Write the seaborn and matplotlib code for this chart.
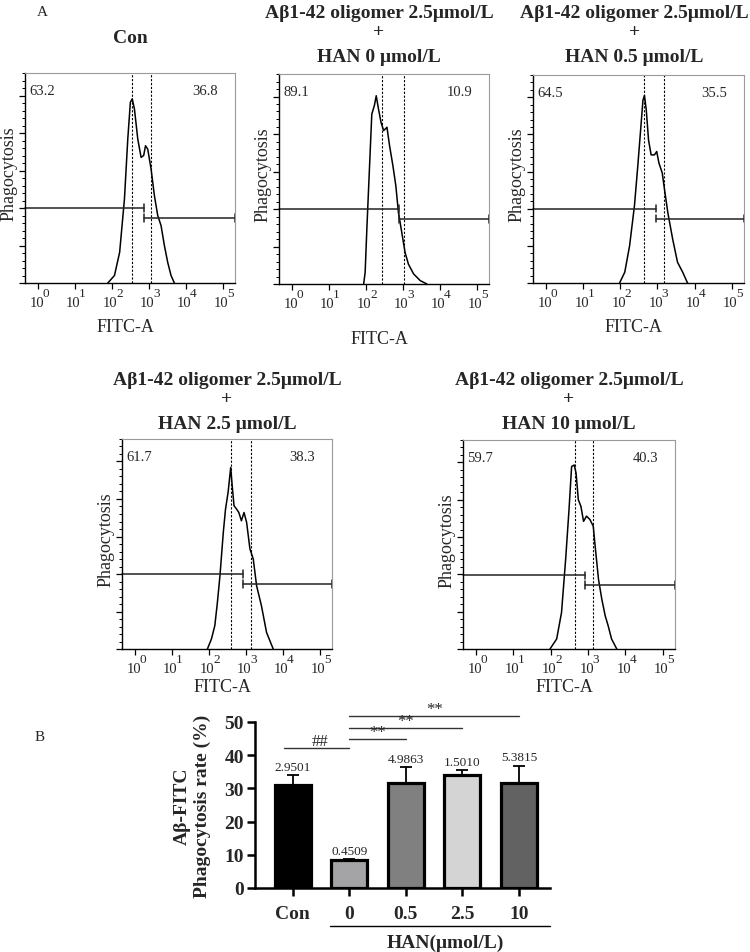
import numpy as np
import pandas as pd
import matplotlib
matplotlib.use("Agg")
import matplotlib.pyplot as plt
import seaborn as sns
from matplotlib.ticker import FixedLocator, MultipleLocator, NullFormatter, LogLocator

# ---------------- Panel A data ----------------
titles = [
    ["Con"],
    ["Aβ1-42 oligomer 2.5μmol/L", "+", "HAN 0 μmol/L"],
    ["Aβ1-42 oligomer 2.5μmol/L", "+", "HAN 0.5 μmol/L"],
    ["Aβ1-42 oligomer 2.5μmol/L", "+", "HAN 2.5 μmol/L"],
    ["Aβ1-42 oligomer 2.5μmol/L", "+", "HAN 10 μmol/L"],
]
left_pct = ["63.2", "89.1", "64.5", "61.7", "59.7"]
right_pct = ["36.8", "10.9", "35.5", "38.3", "40.3"]

# histogram outlines: log10(FITC-A) and relative count
con_logx = [1.89, 2.07, 2.21, 2.34, 2.43, 2.50, 2.55, 2.61, 2.70, 2.79, 2.86, 2.91, 2.97, 3.06, 3.15, 3.24, 3.33, 3.42, 3.51, 3.60, 3.69]
con_cnt = [0, 0.20, 0.82, 2.24, 3.84, 4.82, 4.91, 4.64, 3.84, 3.35, 3.40, 3.66, 3.57, 3.04, 2.33, 1.80, 1.53, 1.00, 0.55, 0.20, 0]
han0_logx = [1.94, 1.98, 2.03, 2.10, 2.16, 2.23, 2.28, 2.34, 2.41, 2.48, 2.52, 2.57, 2.64, 2.73, 2.81, 2.88, 2.97, 3.06, 3.15, 3.29, 3.47, 3.65]
han0_cnt = [0, 0.31, 1.56, 3.16, 4.53, 4.76, 5.02, 4.67, 4.31, 4.09, 4.13, 4.18, 3.69, 3.16, 2.62, 1.91, 1.38, 0.84, 0.53, 0.27, 0.09, 0]
han05_logx = [1.98, 2.12, 2.25, 2.38, 2.47, 2.54, 2.61, 2.65, 2.70, 2.76, 2.83, 2.92, 2.98, 3.04, 3.13, 3.19, 3.28, 3.41, 3.54, 3.68, 3.81]
han05_cnt = [0, 0.29, 1.00, 2.07, 3.14, 4.03, 4.92, 5.05, 4.65, 3.85, 3.45, 3.45, 3.54, 3.23, 2.96, 2.52, 1.89, 1.18, 0.56, 0.29, 0]
han25_logx = [1.96, 2.07, 2.16, 2.23, 2.30, 2.39, 2.45, 2.52, 2.59, 2.63, 2.68, 2.75, 2.81, 2.88, 2.95, 3.02, 3.11, 3.20, 3.29, 3.42, 3.56, 3.74]
han25_cnt = [0, 0.27, 0.62, 1.24, 1.96, 3.11, 3.73, 4.18, 4.84, 4.36, 3.82, 3.73, 3.64, 3.42, 3.64, 3.38, 2.67, 2.40, 1.69, 1.16, 0.44, 0]
han10_logx = [1.98, 2.16, 2.29, 2.40, 2.49, 2.56, 2.63, 2.68, 2.74, 2.81, 2.88, 2.96, 3.05, 3.14, 3.19, 3.28, 3.37, 3.46, 3.54, 3.63, 3.77]
han10_cnt = [0, 0.27, 0.98, 2.40, 3.73, 4.89, 4.93, 4.71, 4.00, 3.82, 3.42, 3.56, 3.47, 3.29, 2.76, 1.87, 1.33, 0.89, 0.62, 0.27, 0]
curves_logx = [con_logx, han0_logx, han05_logx, han25_logx, han10_logx]
curves_cnt = [con_cnt, han0_cnt, han05_cnt, han25_cnt, han10_cnt]

dashed_logx = [[2.55, 3.07], [2.43, 3.04], [2.65, 3.17], [2.60, 3.14], [2.66, 3.14]]
gate_split_logx = [2.86, 2.90, 2.96, 2.92, 2.92]
gate_left_h = [2.00, 2.00, 2.00, 2.00, 1.97]
gate_right_h = [1.73, 1.73, 1.73, 1.73, 1.72]
decades = [0, 1, 2, 3, 4, 5]

# ---------------- Panel B data ----------------
groups = ["Con", "0", "0.5", "2.5", "10"]
rate_mean = [31.0, 8.4, 31.5, 33.9, 31.5]
rate_sd = [2.9501, 0.4509, 4.9863, 1.5010, 5.3815]
sd_labels = ["2.9501", "0.4509", "4.9863", "1.5010", "5.3815"]
bar_colors = ["#000000", "#a4a3a8", "#808080", "#d4d4d4", "#626262"]
sig_from = [-0.15, 1, 1, 1]
sig_to = [1, 2, 3, 4]
sig_y = [42.2, 44.9, 48.2, 51.8]
sig_text = ["##", "**", "**", "**"]

# ---------------- styling ----------------
sns.set_theme(style="ticks")
plt.rcParams["font.family"] = ["Liberation Serif", "DejaVu Serif"]
plt.rcParams["mathtext.fontset"] = "stix"

W, H = 750, 953
fig = plt.figure(figsize=(W / 100, H / 100), dpi=100)


def fx(px):
    return px / W


def fy(py):
    return 1 - py / H


def add_ax(l, t, r, b):
    return fig.add_axes([fx(l), fy(b), fx(r) - fx(l), (b - t) / H])


boxes = [(25, 74, 235, 284), (279, 75, 489, 285), (533, 76, 744, 284),
         (122, 440, 332, 650), (463, 441, 675, 650)]
title_base = [[43], [18, 37, 62], [18, 37, 62], [385, 404, 429], [385, 404, 429]]
title_shift = [0, -5, -4, 0, 0]
fitc_y = [328, 340, 328, 688, 688]

xmin, xmax = 10 ** -0.35, 10 ** 5.33
for i, (l, t, r, b) in enumerate(boxes):
    ax = add_ax(l, t, r, b)
    df = pd.DataFrame({"x": np.power(10.0, curves_logx[i]), "y": curves_cnt[i]})
    sns.lineplot(data=df, x="x", y="y", ax=ax, color="black", lw=1.1,
                 estimator=None, sort=False)
    ax.set_xscale("log")
    ax.set_xlim(xmin, xmax)
    ax.set_ylim(0, 5.6)
    for d in dashed_logx[i]:
        ax.axvline(10 ** d, color="black", lw=0.8, ls=(0, (2, 1.5)))
    # gates
    gs = 10 ** gate_split_logx[i]
    hl, hr = gate_left_h[i], gate_right_h[i]
    ax.plot([xmin, gs], [hl, hl], color="#222222", lw=1.1, clip_on=False)
    ax.plot([gs, gs], [hl - 0.1, hl + 0.1], color="#222222", lw=1.1)
    ax.plot([gs, xmax], [hr, hr], color="#222222", lw=1.1, clip_on=False)
    ax.plot([gs, gs], [hr - 0.1, hr + 0.1], color="#222222", lw=1.1)
    ax.plot([xmax, xmax], [hr - 0.1, hr + 0.1], color="#222222", lw=1.1, clip_on=False)
    # corner percentages
    ax.text(0.02, 0.915, left_pct[i], transform=ax.transAxes, ha="left", va="center", fontsize=10.5)
    ax.text(0.92, 0.915, right_pct[i], transform=ax.transAxes, ha="right", va="center", fontsize=10.5)
    # ticks
    ax.xaxis.set_major_locator(FixedLocator([10.0 ** k for k in decades]))
    ax.set_xticklabels([])
    for k in decades:
        ax.annotate("10", xy=(10.0 ** k, 0), xycoords=("data", "axes fraction"),
                    xytext=(-1, -16.5), textcoords="offset points",
                    ha="center", va="baseline", fontsize=10.5)
        ax.annotate(str(k), xy=(10.0 ** k, 0), xycoords=("data", "axes fraction"),
                    xytext=(5.5, -9.6), textcoords="offset points",
                    ha="center", va="baseline", fontsize=9.5)
    ax.xaxis.set_minor_locator(LogLocator(base=10, subs=np.arange(2, 10)))
    ax.xaxis.set_minor_formatter(NullFormatter())
    ax.yaxis.set_major_locator(MultipleLocator(1))
    ax.yaxis.set_minor_locator(MultipleLocator(0.2))
    ax.set_yticklabels([])
    ax.tick_params(axis="both", which="major", direction="out", length=4, width=0.9, color="black", pad=1)
    ax.tick_params(axis="both", which="minor", direction="out", length=2, width=0.7, color="black")
    ax.set_xlabel("")
    ax.set_ylabel("")
    for s in ["top", "right"]:
        ax.spines[s].set_color("#9a9a9a")
        ax.spines[s].set_linewidth(0.8)
    for s in ["left", "bottom"]:
        ax.spines[s].set_color("black")
        ax.spines[s].set_linewidth(1.0)
    # labels
    cx = (l + r) / 2
    fig.text(fx(cx - 5), fy(fitc_y[i]), "FITC-A", ha="center", va="center", fontsize=13)
    fig.text(fx(l - 16), fy((t + b) / 2 - 5), "Phagocytosis", rotation=90, ha="center", va="center", fontsize=13)
    for line, yb in zip(titles[i], title_base[i]):
        fig.text(fx(cx + title_shift[i]), fy(yb), line, ha="center", va="baseline", fontsize=14, fontweight="bold")

fig.text(fx(42), fy(13), "A", ha="center", va="center", fontsize=11)
fig.text(fx(40), fy(738), "B", ha="center", va="center", fontsize=11)

# ---------------- Panel B ----------------
axb = add_ax(255, 723, 550, 889)
dfb = pd.DataFrame({"group": groups, "rate": rate_mean})
sns.barplot(data=dfb, x="group", y="rate", hue="group", palette=bar_colors, legend=False,
            edgecolor="black", linewidth=2.3, width=0.64, errorbar=None, ax=axb, zorder=3)
xs = np.arange(len(groups))
axb.errorbar(xs, rate_mean, yerr=[np.zeros(len(groups)), rate_sd], fmt="none",
             ecolor="black", elinewidth=1.3, capsize=4.5, capthick=1.3, zorder=2)
for x, m, s, lab in zip(xs, rate_mean, rate_sd, sd_labels):
    axb.annotate(lab, (x, m + s), xytext=(0, 1.5), textcoords="offset points",
                 ha="center", va="bottom", fontsize=9.5)
for x0, x1, y, txt in zip(sig_from, sig_to, sig_y, sig_text):
    axb.plot([x0, x1], [y, y], color="#333333", lw=1.0, clip_on=False)
    axb.text((x0 + x1) / 2 if txt == "**" else (x0 + x1) / 2 + 0.05, y - 0.4, txt,
             ha="center", va="bottom", fontsize=12)
axb.set_xlim(-0.67, 4.55)
axb.set_ylim(0, 50)
axb.yaxis.set_major_locator(MultipleLocator(10))
axb.set_xlabel("")
axb.set_ylabel("")
sns.despine(ax=axb)
for s in ["left", "bottom"]:
    axb.spines[s].set_linewidth(1.8)
    axb.spines[s].set_color("black")
axb.tick_params(axis="both", direction="out", length=6, width=1.8, color="black", pad=2)
axb.tick_params(axis="x", pad=6)
for lab in axb.get_xticklabels() + axb.get_yticklabels():
    lab.set_fontsize(14)
    lab.set_fontweight("bold")
# group line and label under treatment bars
axb.plot([0.65, 4.55], [-11.4, -11.4], color="black", lw=1.0, clip_on=False)
axb.text(2.7, -16.3, "HAN(μmol/L)", ha="center", va="center", fontsize=14, fontweight="bold")
fig.text(fx(182), fy(806), "Aβ-FITC", rotation=90, ha="center", va="center", fontsize=14, fontweight="bold")
fig.text(fx(202), fy(806), "Phagocytosis rate (%)", rotation=90, ha="center", va="center", fontsize=14, fontweight="bold")

fig.savefig("out.png", dpi=100)
